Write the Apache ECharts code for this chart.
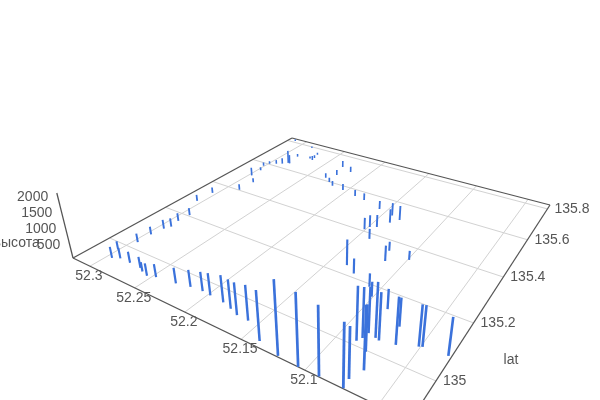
<!DOCTYPE html>
<html><head><meta charset="utf-8"><style>html,body{margin:0;background:#fff}#c{width:600px;height:400px}</style>
<script src="https://cdn.jsdelivr.net/npm/echarts@6/dist/echarts.min.js"></script></head><body><div id="c"></div>
<script>
var lng=[52.295,52.301,52.289,52.278,52.296,52.296,52.294,52.291,52.293,52.292,52.305,52.304,52.287,52.297,52.286,52.297,52.301,52.299,52.293,52.288,52.284,
52.282,52.285,52.312,52.266,52.261,52.254,52.247,52.229,52.217,52.206,52.198,52.185,52.176,52.168,52.158,52.139,52.121,52.105,52.090,52.073,52.074,
52.087,52.085,52.070,52.077,52.108,52.084,52.101,52.078,52.075,52.085,52.064,52.070,52.051,52.049,52.032,52.126,52.285,52.271,52.267,52.268,52.270,
52.232,52.224,52.217,52.226,52.231,52.218,52.204,52.188,52.177,52.157,52.151,52.149,52.144,52.138,52.142,52.133,52.140,52.136,52.114,52.118,52.099];
var lat=[134.941,134.976,134.951,134.951,135.027,135.073,135.113,135.131,135.164,135.205,135.279,135.342,135.403,135.502,135.466,135.548,135.580,135.604,135.616,135.628,135.644,
135.643,135.703,135.811,134.950,134.942,134.936,134.944,134.952,134.961,134.964,134.962,134.959,134.951,134.942,134.941,134.904,134.890,134.887,134.888,134.888,134.914,
135.014,135.028,134.949,134.996,135.190,135.048,135.160,135.043,135.040,135.140,135.047,135.102,135.068,135.072,135.076,135.216,135.791,135.713,135.708,135.726,135.754,
135.618,135.599,135.582,135.654,135.717,135.698,135.576,135.562,135.555,135.532,135.410,135.428,135.439,135.479,135.518,135.507,135.374,135.237,135.305,135.352,135.342];
var height=[365,270,342,362,288,264,305,296,275,253,223,205,207,300,156,121,138,98,151,220,488,
338,113,74,359,306,399,418,495,536,604,694,834,889,977,1056,1450,2090,2023,1921,1774,1445,
1559,1456,1784,1337,425,1336,468,1592,1381,620,1372,858,1209,1190,1106,485,73,83,165,112,84,
174,168,182,198,243,212,230,226,250,293,396,412,422,475,446,499,344,833,505,304,299];
var lngTicks=[52.3,52.25,52.2,52.15,52.1,52.05];
var lngLabels=['52.3','52.25','52.2','52.15','52.1'];
var latTicks=[135,135.2,135.4,135.6,135.8];
var latLabels=['135','135.2','135.4','135.6','135.8'];
var heightTicks=[500,1000,1500,2000];
var heightLabels=['500','1000','1500','2000'];
var lngRange=[52.03,52.3204], latRange=[134.887,135.828], heightRange=[0,2050];

// Pinhole camera of the 3D box: screen position of the four floor corners and perspective weights.
var L=[73,258],F=[410,421],R=[550,205],B=[292,138],wF=.7009,wB=1.4685,Vy=1290,Vx=330,yTop=193;
var cz=(yTop-L[1])/(Vy-yTop);
function proj(a,b,h){
  var s=(lngRange[1]-a)/(lngRange[1]-lngRange[0]),t=(b-latRange[0])/(latRange[1]-latRange[0]),
      z=(h-heightRange[0])/(heightRange[1]-heightRange[0]);
  var w=1+(wF-1)*s+(wB-1)*t+cz*z;
  var X=L[0]+(wF*F[0]-L[0])*s+(wB*B[0]-L[0])*t+cz*z*Vx;
  var Y=L[1]+(wF*F[1]-L[1])*s+(wB*B[1]-L[1])*t+cz*z*Vy;
  return [X/w,Y/w,w];
}
var dark='#555',gridC='#d2d2d2',txt='#555',barC='#3b72db';
function line(api,p,q,st){var a=api.coord(p),b=api.coord(q);
  return {type:'line',shape:{x1:a[0],y1:a[1],x2:b[0],y2:b[1]},style:st,silent:true};}
function lineSeries(segs,st){return {type:'custom',coordinateSystem:'cartesian2d',clip:false,silent:true,
  data:segs.map(function(_,i){return [i];}),
  renderItem:function(p,api){var s=segs[p.dataIndex];return line(api,s[0],s[1],st);}};}
var lo=lngRange[0],hi=lngRange[1],la=latRange[0],lb=latRange[1];
var gridSegs=[];
lngTicks.forEach(function(v){gridSegs.push([proj(v,la,0),proj(v,lb,0)]);});
latTicks.forEach(function(v){gridSegs.push([proj(lo,v,0),proj(hi,v,0)]);});
var axisSegs=[[proj(hi,la,0),proj(lo,la,0)],[proj(lo,la,0),proj(lo,lb,0)],[proj(lo,lb,0),proj(hi,lb,0)],[proj(hi,lb,0),proj(hi,la,0)],[proj(hi,la,0),proj(hi,la,heightRange[1])]];
var texts=[];
lngLabels.forEach(function(t,i){var p=proj(lngTicks[i],la,0);texts.push({t:t,x:p[0]-1,y:p[1]+10,a:'center'});});
latLabels.forEach(function(t,i){var p=proj(lo,latTicks[i],0);texts.push({t:t,x:p[0]+7,y:p[1],a:'left'});});
heightLabels.forEach(function(t,i){var p=proj(hi,la,heightTicks[i]);texts.push({t:t,x:p[0]-9,y:p[1]+2,a:'right'});});
texts.push({t:'высота',x:16.6,y:243,a:'center'});
texts.push({t:'lat',x:511,y:360,a:'center'});
var bars=lng.map(function(v,i){return [v,lat[i],height[i]];});
var option={animation:false,backgroundColor:'#fff',
  grid:{left:0,right:0,top:0,bottom:0},
  xAxis:{type:'value',min:0,max:600,show:false},
  yAxis:{type:'value',min:0,max:400,inverse:true,show:false},
  series:[
    lineSeries(gridSegs,{stroke:gridC,lineWidth:1}),
    lineSeries(axisSegs,{stroke:dark,lineWidth:1.25}),
    {type:'custom',coordinateSystem:'cartesian2d',clip:false,silent:true,data:bars,
     renderItem:function(p,api){var a=api.value(0),b=api.value(1),h=api.value(2),
        p0=proj(a,b,0),p1=proj(a,b,h);
        return line(api,p0,p1,{stroke:barC,lineWidth:2.1/p0[2]});}},
    {type:'custom',coordinateSystem:'cartesian2d',clip:false,silent:true,data:texts.map(function(_,i){return [i];}),
     renderItem:function(p,api){var d=texts[p.dataIndex],c=api.coord([d.x,d.y]);
        return {type:'text',x:c[0],y:c[1],style:{text:d.t,fill:txt,font:'14px "Liberation Sans", Arial, sans-serif',textAlign:d.a,textVerticalAlign:'middle'}};}}
  ]};
echarts.init(document.getElementById('c'),null,{renderer:'canvas'}).setOption(option);
</script></body></html>
